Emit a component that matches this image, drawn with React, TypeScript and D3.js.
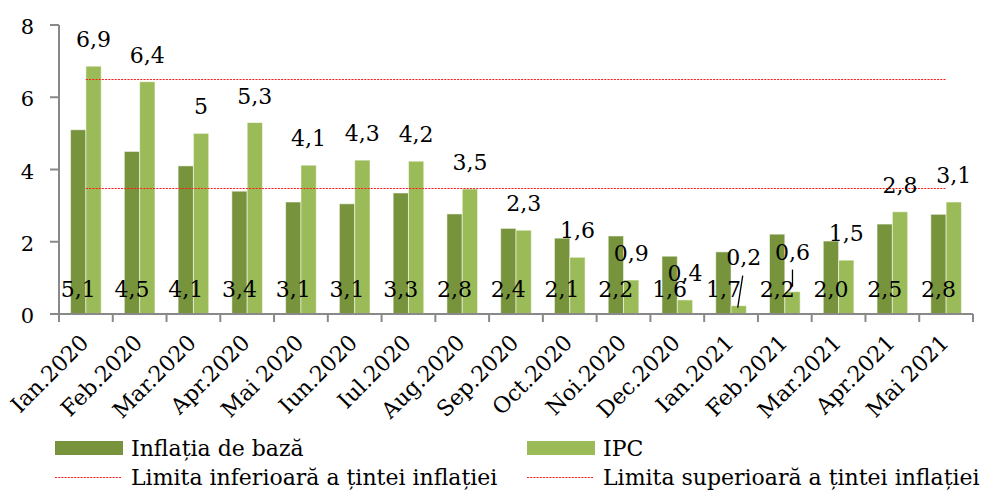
import React from 'react';
import * as d3 from 'd3';

const months = ['Ian.2020', 'Feb.2020', 'Mar.2020', 'Apr.2020', 'Mai 2020', 'Iun.2020', 'Iul.2020', 'Aug.2020', 'Sep.2020', 'Oct.2020', 'Noi.2020', 'Dec.2020', 'Ian.2021', 'Feb.2021', 'Mar.2021', 'Apr.2021', 'Mai 2021'];
const coreValues = [5.1, 4.5, 4.1, 3.4, 3.1, 3.05, 3.35, 2.77, 2.37, 2.1, 2.16, 1.6, 1.72, 2.21, 2.02, 2.49, 2.76];
const coreLabels = ['5,1', '4,5', '4,1', '3,4', '3,1', '3,1', '3,3', '2,8', '2,4', '2,1', '2,2', '1,6', '1,7', '2,2', '2,0', '2,5', '2,8'];
const cpiValues = [6.86, 6.43, 5.0, 5.3, 4.12, 4.26, 4.23, 3.46, 2.32, 1.57, 0.94, 0.39, 0.23, 0.62, 1.49, 2.83, 3.1];
const cpiLabels = ['6,9', '6,4', '5', '5,3', '4,1', '4,3', '4,2', '3,5', '2,3', '1,6', '0,9', '0,4', '0,2', '0,6', '1,5', '2,8', '3,1'];
const lowerLimit = 3.5;
const upperLimit = 6.5;
const yTicks = [0, 2, 4, 6, 8];

// labels that were dragged by hand in the original, with a leader line
const movedLabels: Record<number, { dx: number; dy: number }> = {
  12: { dx: 5, dy: -22 },
  13: { dx: 0, dy: -13 },
};

const W = 984, H = 490;
const m = { left: 59, right: 11, top: 25, bottom: 176 };
const FONT = '"DejaVu Serif", serif';
const DARK = '#77933C';
const LIGHT = '#9BBB59';
const AXIS = '#898989';
const RED = '#FF1A1A';
const DOTS = '2,1.2';

// snap a 1px line onto the pixel grid
const crisp = (v: number) => Math.round(v) + 0.5;

export default function App() {
  const x = d3.scaleBand<string>().domain(months).range([m.left, W - m.right]);
  const y = d3.scaleLinear().domain([0, 8]).range([H - m.bottom, m.top]);
  const step = x.step();
  const barW = step * 0.285;
  const cx = (i: number) => (x(months[i]) as number) + step / 2;
  const y0 = y(0);
  const last = months.length - 1;

  return (
    <div style={{ position: 'absolute', left: 0, top: 0 }}>
      <svg width={W} height={H} style={{ display: 'block', background: '#fff' }} fontFamily={FONT}>
        {/* bars */}
        {months.map((mo, i) => (
          <g key={mo}>
            <rect x={cx(i) - barW} y={y(coreValues[i])} width={barW} height={y0 - y(coreValues[i])}
              fill={DARK} stroke="rgba(255,255,255,0.55)" strokeWidth={1} />
            <rect x={cx(i)} y={y(cpiValues[i])} width={barW} height={y0 - y(cpiValues[i])}
              fill={LIGHT} stroke="rgba(255,255,255,0.55)" strokeWidth={1} />
          </g>
        ))}

        {/* target band limits */}
        {[lowerLimit, upperLimit].map(v => (
          <line key={v} x1={cx(0)} x2={cx(last)} y1={crisp(y(v))} y2={crisp(y(v))}
            stroke={RED} strokeWidth={1.2} strokeDasharray={DOTS} />
        ))}

        {/* axes */}
        <line x1={m.left} x2={m.left} y1={y(8)} y2={y0} stroke={AXIS} strokeWidth={2} />
        <line x1={m.left} x2={W - m.right} y1={y0} y2={y0} stroke={AXIS} strokeWidth={2} />
        {yTicks.map(t => (
          <g key={t}>
            <line x1={m.left - 9} x2={m.left} y1={y(t)} y2={y(t)} stroke={AXIS} strokeWidth={2} />
            <text x={34} y={y(t) + 9} textAnchor="end" fontSize={21}>{t}</text>
          </g>
        ))}
        {d3.range(months.length + 1).map(i => {
          const tx = m.left + i * step;
          return <line key={i} x1={tx} x2={tx} y1={y0} y2={y0 + 8} stroke={AXIS} strokeWidth={2} />;
        })}
        {months.map((mo, i) => (
          <text key={mo} transform={`translate(${cx(i) + 4},${y0 + 30}) rotate(-45)`}
            textAnchor="end" fontSize={22}>{mo}</text>
        ))}

        {/* data labels */}
        {months.map((mo, i) => (
          <text key={'c' + mo} x={cx(i) - barW / 2} y={y0 - 17} textAnchor="middle" fontSize={22}>{coreLabels[i]}</text>
        ))}
        {months.map((mo, i) => {
          const mv = movedLabels[i] || { dx: 0, dy: 0 };
          const lx = cx(i) + barW / 2 + mv.dx;
          const ly = y(cpiValues[i]) - 19 + mv.dy;
          return (
            <text key={'p' + mo} x={lx} y={ly} textAnchor="middle" fontSize={22}>{cpiLabels[i]}</text>
          );
        })}
        {/* leader lines for moved labels */}
        <line x1={cx(12) + barW / 2 - 1} y1={y(cpiValues[12]) + 2} x2={cx(12) + barW / 2 + 4} y2={y(cpiValues[12]) - 30} stroke="#000" strokeWidth={1.3} />
        <line x1={cx(13) + barW / 2} y1={y(cpiValues[13]) - 5} x2={cx(13) + barW / 2} y2={y(cpiValues[13]) - 22} stroke="#000" strokeWidth={1.3} />

        {/* legend */}
        <rect x={55} y={441} width={68} height={14} fill={DARK} />
        <text x={131} y={456} fontSize={22}>Inflația de bază</text>
        <rect x={527} y={441} width={68} height={14} fill={LIGHT} />
        <text x={603} y={456} fontSize={22}>IPC</text>
        <line x1={55} x2={121} y1={477.5} y2={477.5} stroke={RED} strokeWidth={1.2} strokeDasharray={DOTS} />
        <text x={131} y={485} fontSize={22}>Limita inferioară a țintei inflației</text>
        <line x1={527} x2={593} y1={477.5} y2={477.5} stroke={RED} strokeWidth={1.2} strokeDasharray={DOTS} />
        <text x={603} y={485} fontSize={22}>Limita superioară a țintei inflației</text>
      </svg>
    </div>
  );
}
